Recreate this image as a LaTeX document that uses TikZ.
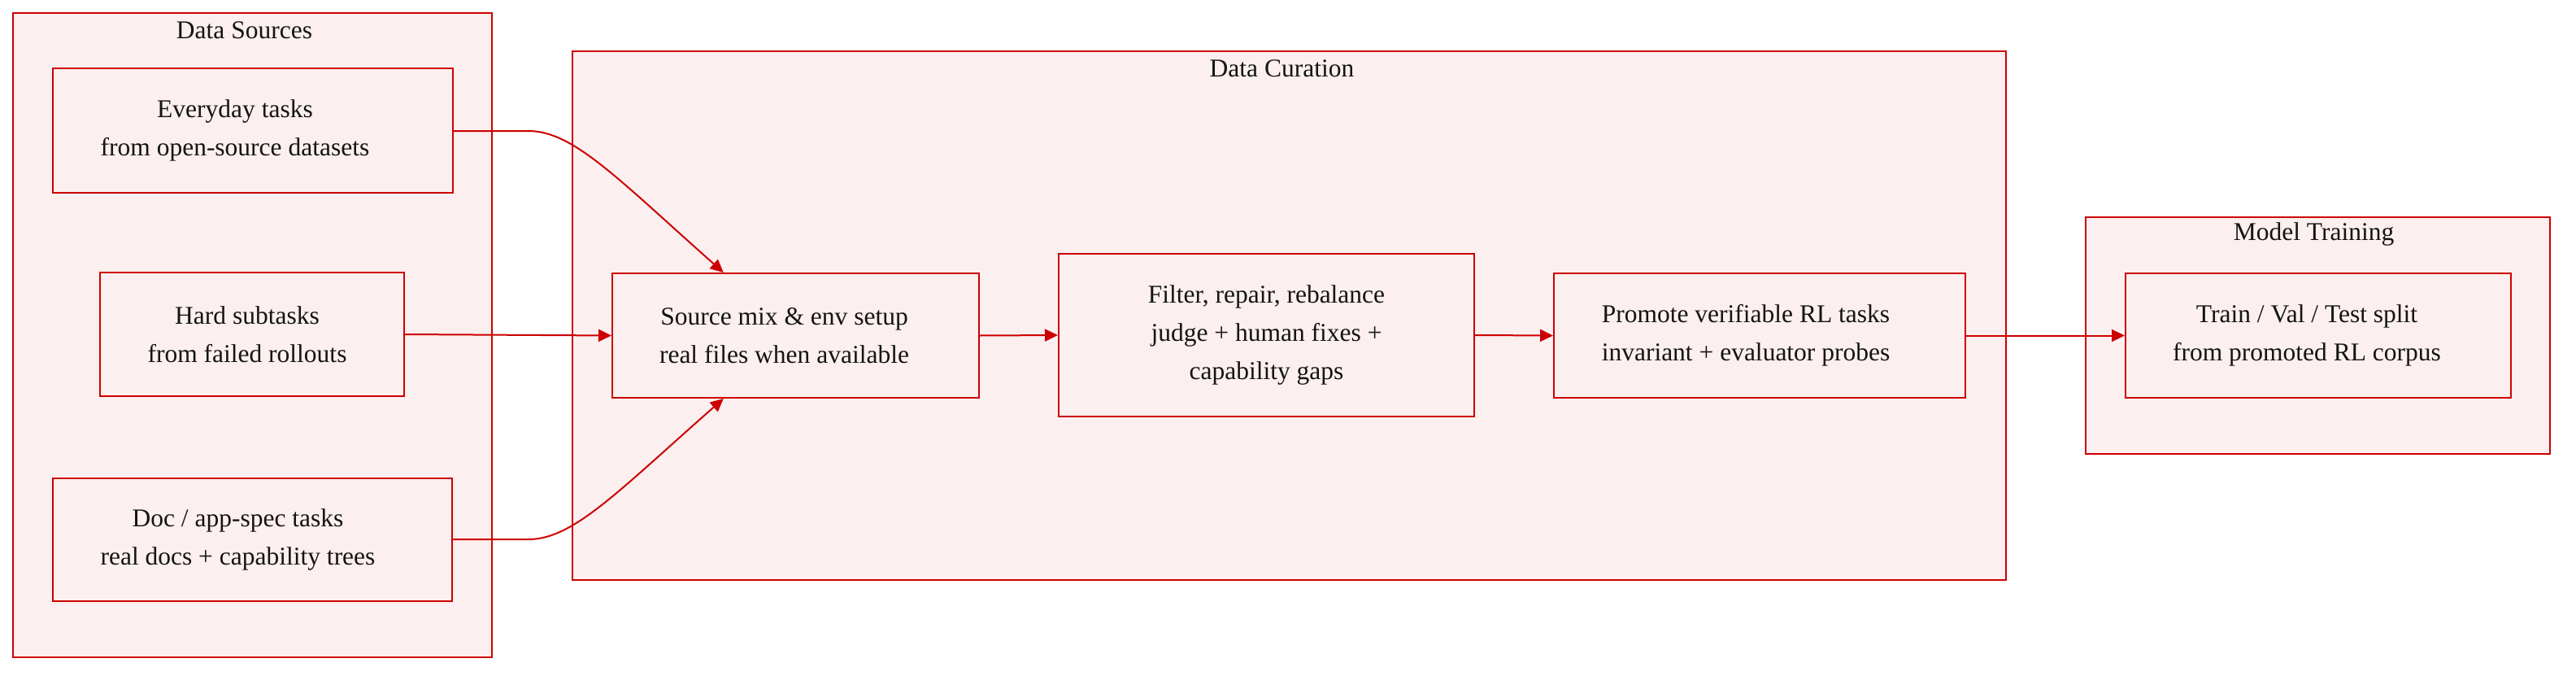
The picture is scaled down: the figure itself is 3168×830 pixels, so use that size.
\documentclass[tikz,border=0pt]{standalone}
\usepackage{fontspec}
\setmainfont{Liberation Serif}
\usetikzlibrary{fit,arrows.meta,calc}
\definecolor{boxred}{RGB}{204,0,0}
\definecolor{boxfill}{RGB}{252,239,239}
\definecolor{txt}{RGB}{20,20,20}
\newcommand\shl[1]{\hspace*{#1}}
\tikzset{
  cluster/.style={draw=boxred, fill=boxfill, line width=1pt, inner sep=0pt},
  stepbox/.style={draw=boxred, fill=boxfill, line width=1pt, align=center, text=txt,
    font=\fontsize{15.75}{23.5}\selectfont, inner sep=0pt},
  ctitle/.style={text=txt, font=\fontsize{15.75}{19}\selectfont},
  flow/.style={draw=boxred, line width=1pt, -{Triangle[length=8pt,width=7.5pt]}}
}
\begin{document}
\begin{tikzpicture}[x=0.5pt,y=-0.5pt]
\useasboundingbox (0,0) rectangle (3168,830);
% clusters
\node[cluster, fit={(16,16)(605,808)}] (ds) {};
\node[ctitle] (dst) at ([yshift=-11pt,xshift=-5pt]ds.north) {Data Sources};
\node[cluster, fit={(704,63)(2467,713)}] (dc) {};
\node[ctitle] (dct) at ([yshift=-11pt,xshift=-4.5pt]dc.north) {Data Curation};
\node[cluster, fit={(2565,267)(3136,558)}] (mt) {};
\node[ctitle] (mtt) at ([yshift=-11pt,xshift=-2.5pt]mt.north) {Model Training};
% nodes
\node[stepbox, minimum width=246pt, minimum height=76.5pt] (every) at (311,160.5) {Everyday tasks\shl{22pt}\\from open-source datasets\shl{22pt}};
\node[stepbox, minimum width=187pt, minimum height=76pt] (hard) at (310,411) {Hard subtasks\shl{6pt}\\from failed rollouts\shl{6pt}};
\node[stepbox, minimum width=245.5pt, minimum height=75.5pt] (doc) at (310.5,663.5) {Doc / app-spec tasks\shl{18pt}\\real docs + capability trees\shl{18pt}};
\node[stepbox, minimum width=225.5pt, minimum height=76.5pt] (source) at (978.5,412.5) {Source mix \& env setup\shl{14pt}\\real files when available\shl{14pt}};
\node[stepbox, minimum width=255.5pt, minimum height=100pt] (filter) at (1557.5,412) {Filter, repair, rebalance\\judge + human fixes +\\capability gaps};
\node[stepbox, minimum width=253pt, minimum height=76.5pt] (promote) at (2164,412.5) {Promote verifiable RL tasks\shl{17pt}\\invariant + evaluator probes\shl{17pt}};
\node[stepbox, minimum width=237pt, minimum height=76.5pt] (train) at (2851,412.5) {Train / Val / Test split\shl{14pt}\\from promoted RL corpus\shl{14pt}};
% connector helper points
\coordinate (stop) at ($(source.north west)!0.304!(source.north east)$);
\coordinate (sbot) at ($(source.south west)!0.304!(source.south east)$);
\coordinate (e1) at (650,161);
\coordinate (d1) at (650,663);
% connectors
\draw[flow] (every.east |- e1) -- (e1) .. controls (705,161) and (760,220) .. (stop);
\draw[flow] (doc.east |- d1) -- (d1) .. controls (705,663) and (760,604) .. (sbot);
\draw[flow] (hard.east) -- (source.west);
\draw[flow] (source.east) -- (filter.west);
\draw[flow] (filter.east) -- (promote.west);
\draw[flow] (promote.east) -- (train.west);
\end{tikzpicture}
\end{document}
